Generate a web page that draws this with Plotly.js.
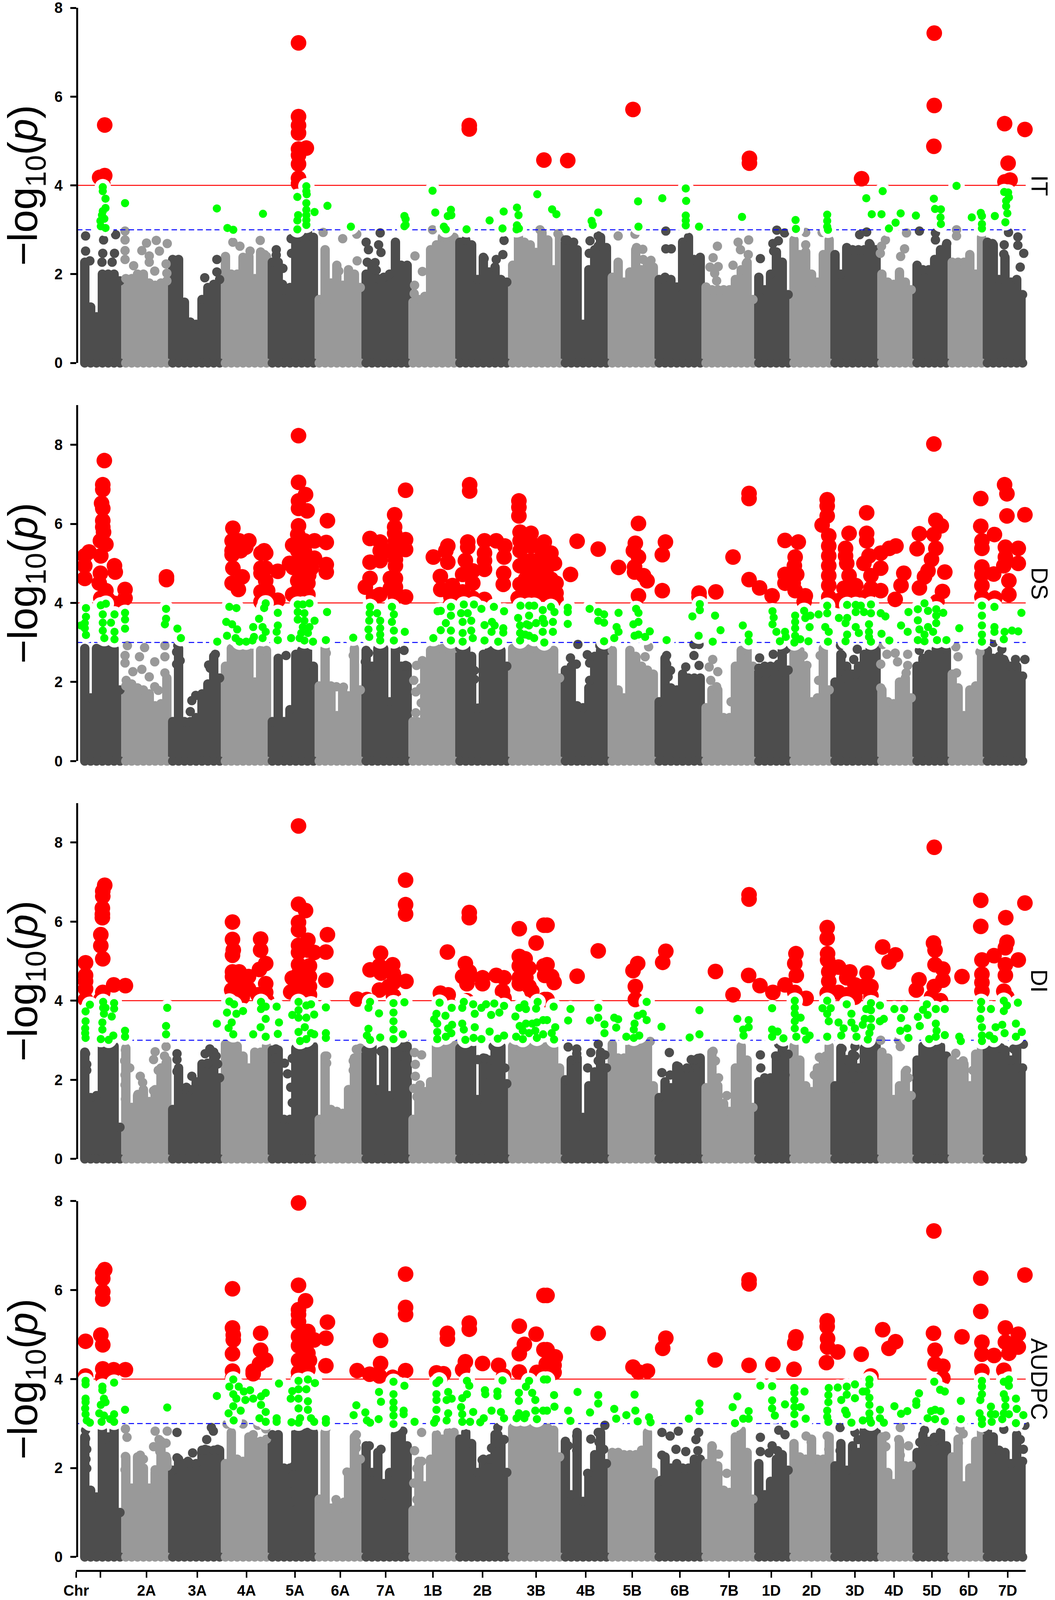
<!DOCTYPE html>
<html>
<head>
<meta charset="utf-8">
<script src="https://cdn.plot.ly/plotly-3.0.1.min.js"></script>
<style>body{margin:0;background:#fff}</style>
</head>
<body>
<div id="chart"></div>
<script>
// Cumulative genome position axis, chromosome ticks and ends
const tickPos = [195,257,375,505,631,755,871,987,1108,1235,1372,1499,1618,1740,1866,1974,2077,2188,2288,2385,2479,2579];
const tickText = ['Chr','','2A','3A','4A','5A','6A','7A','1B','2B','3B','4B','5B','6B','7B','1D','2D','3D','4D','5D','6D','7D'];
const chrEnds = [308,440,568,695,816,925,1050,1168,1303,1440,1557,1680,1802,1928,2020,2134,2243,2335,2436,2523,2700];

// Windows along the genome used for the dense lower part of each panel
const massX = [
 217,232,247,262,277,292,307,322,337,352,
 367,382,397,412,427,442,457,472,487,502,
 517,532,547,562,577,592,607,622,637,652,
 667,682,697,712,727,742,757,772,787,802,
 817,832,847,862,877,892,907,922,937,952,
 967,982,997,1012,1027,1042,1057,1072,1087,1102,
 1117,1132,1147,1162,1177,1192,1207,1222,1237,1252,
 1267,1282,1297,1312,1327,1342,1357,1372,1387,1402,
 1417,1432,1447,1462,1477,1492,1507,1522,1537,1552,
 1567,1582,1597,1612,1627,1642,1657,1672,1687,1702,
 1717,1732,1747,1762,1777,1792,1807,1822,1837,1852,
 1867,1882,1897,1912,1927,1942,1957,1972,1987,2002,
 2017,2032,2047,2062,2077,2092,2107,2122,2137,2152,
 2167,2182,2197,2212,2227,2242,2257,2272,2287,2302,
 2317,2332,2347,2362,2377,2392,2407,2422,2437,2452,
 2467,2482,2497,2512,2527,2542,2557,2572,2587,2602,
 2617];

const itTop = [
 2.27,1.26,1.04,2.0,2.0,2.0,1.85,1.9,1.9,2.0,
 2.0,1.8,1.75,1.8,1.85,2.33,2.33,1.37,.92,.87,
 1.43,1.7,1.77,1.88,2.4,2.0,2.0,2.38,2.4,1.9,
 2.5,2.4,2.27,2.27,1.65,1.7,2.77,2.83,2.95,2.83,
 1.43,2.55,1.8,2.2,1.75,2.1,2.0,1.7,2.0,2.2,
 1.9,1.93,2.0,2.72,2.2,2.2,1.37,1.43,1.5,2.55,
 2.66,2.83,2.83,2.83,2.72,2.77,2.66,1.88,2.38,2.05,
 2.16,1.88,1.82,2.2,2.83,2.72,2.66,2.49,2.94,2.77,
 2.1,2.83,2.77,2.55,2.55,.87,2.1,2.55,2.83,2.6,
 1.93,2.27,1.82,2.05,2.55,2.1,2.27,2.16,1.88,1.93,
 1.88,1.71,2.72,2.83,2.33,2.38,1.71,1.65,1.65,1.65,
 1.65,1.88,2.1,2.27,1.43,1.93,1.65,2.0,2.5,2.27,
 1.54,2.77,2.44,2.5,2.0,1.82,2.44,2.77,2.44,2.0,
 2.6,2.55,2.55,2.55,2.66,2.55,2.0,1.82,1.77,2.05,
 1.82,1.65,2.2,2.1,2.1,2.33,2.55,2.66,2.27,2.27,
 2.27,2.44,2.0,2.83,2.72,2.66,1.88,2.38,1.82,1.88,
 1.54];
const dsTop = [
 2.85,1.6,2.85,2.85,2.85,2.85,1.8,1.9,1.95,1.85,
 1.8,1.7,1.4,1.45,2.1,1.0,2.85,1.0,1.0,1.1,
 1.7,1.95,2.65,2.1,2.4,2.85,2.85,2.85,2.85,2.0,
 2.8,2.8,1.0,2.6,1.0,1.3,2.7,2.8,2.8,2.4,
 1.9,2.85,1.9,1.15,1.85,1.65,2.85,1.8,2.8,2.4,
 2.85,2.85,1.5,2.85,2.4,2.4,1.0,.9,2.4,2.8,
 2.85,2.85,2.85,2.85,2.85,2.85,2.65,1.15,2.7,2.8,
 2.8,2.8,2.4,2.85,2.85,2.85,2.85,2.85,2.85,2.85,
 2.8,2.1,2.3,2.4,1.4,1.35,1.85,2.65,2.8,2.8,
 2.8,1.8,1.6,2.8,2.65,2.4,2.3,2.2,1.5,2.6,
 1.85,1.8,2.2,2.1,2.1,2.1,1.35,1.8,1.8,1.1,
 1.1,2.4,2.8,2.8,2.4,2.35,2.4,2.4,2.4,2.8,
 2.3,2.85,2.8,2.4,1.5,1.6,2.85,1.8,2.0,2.7,
 2.4,2.2,2.4,2.7,2.85,2.85,1.8,1.5,1.45,2.0,
 2.1,1.6,2.4,2.6,2.7,2.7,2.8,2.8,2.2,1.85,
 1.15,1.8,1.9,2.8,2.8,2.6,2.65,2.5,2.4,2.4,
 2.15];
const diTop = [
 2.7,1.55,1.6,2.85,2.85,2.85,.8,2.8,1.3,1.6,
 1.75,1.45,1.75,2.3,2.5,1.25,2.3,1.75,1.75,1.95,
 2.4,2.4,2.7,2.05,2.9,2.9,2.85,2.6,2.3,2.7,
 2.7,2.85,2.75,2.75,1.0,1.0,2.8,2.85,2.85,2.85,
 1.0,2.6,1.25,1.2,1.15,1.75,2.55,2.8,2.75,2.85,
 1.75,2.75,1.6,2.85,2.85,2.85,1.0,1.8,1.7,1.95,
 2.85,2.85,2.9,2.95,2.8,2.85,2.85,1.5,2.55,2.5,
 2.85,2.85,1.9,2.85,2.85,2.85,2.85,2.85,2.85,2.85,
 2.8,2.3,2.0,2.5,2.55,1.05,1.85,2.2,2.7,2.3,
 2.9,2.55,2.55,2.85,2.85,2.85,2.9,1.85,1.55,1.95,
 1.8,2.35,2.25,2.25,2.5,2.55,1.8,2.7,1.85,1.4,
 1.2,2.3,2.85,2.5,1.3,1.95,2.05,2.05,2.6,2.8,
 2.65,2.85,2.5,1.85,1.7,2.3,2.55,2.85,1.85,2.8,
 2.3,2.65,2.3,2.8,2.9,2.9,2.7,2.55,1.5,1.85,
 2.2,1.6,2.5,2.85,2.8,2.85,2.85,2.6,2.5,2.4,
 2.4,1.85,2.65,2.85,2.75,2.85,2.8,2.75,2.5,2.8,
 2.3];
const audpcTop = [
 2.7,1.5,1.35,2.85,2.7,2.85,1.0,2.25,1.55,2.25,
 2.0,1.55,1.9,2.6,2.2,1.95,2.2,2.1,2.1,2.1,
 2.4,2.4,2.4,2.4,2.1,2.8,2.2,2.15,2.7,2.6,
 2.6,2.65,2.75,2.75,2.0,2.0,2.8,2.8,2.8,2.8,
 1.3,2.8,1.1,1.25,1.1,1.9,2.7,2.2,2.5,1.9,
 2.35,1.65,1.9,2.75,2.75,2.5,1.05,2.15,1.6,2.2,
 2.75,2.65,2.8,2.8,2.65,2.8,2.55,1.9,2.2,2.2,
 2.75,2.65,1.9,2.9,2.9,2.9,2.9,2.9,2.9,2.9,
 2.85,2.25,2.6,1.4,2.8,1.25,1.85,2.3,2.8,2.1,
 2.35,2.35,2.3,2.3,2.3,2.4,2.8,1.9,1.7,2.25,
 2.0,2.1,2.0,2.0,2.2,2.2,2.1,2.5,2.05,1.5,
 1.45,2.7,2.85,2.35,1.3,2.1,1.4,1.7,2.2,2.3,
 1.95,2.55,2.25,2.2,2.65,2.2,2.2,2.7,2.05,2.55,
 1.95,2.5,2.35,2.85,2.85,2.85,2.7,1.9,1.65,2.6,
 2.05,2.05,2.35,2.75,2.6,2.6,2.8,2.5,2.25,2.65,
 1.6,2.0,2.6,2.85,2.85,2.7,2.4,2.35,2.1,2.75,
 2.15];

// Scattered SNPs standing above the dense part, [position, -log10(p)]
const itDots = [[219,2.86],[219,2.52],[230,2.3],[265,2.77],[263,2.47],[261,2.27],[293,2.47],[296,2.89],[287,2.27],[320,2.97],[320,2.77],[320,2.53],[320,2.33],[342,2.19],[363,2.53],[375,2.7],[382,2.41],[382,2.27],[400,2.76],[396,2.07],[428,2.69],[408,2.52],[425,2.23],[427,2.02],[524,1.92],[555,2.33],[555,2.05],[596,2.72],[614,2.63],[640,2.52],[666,2.76],[677,2.44],[707,2.55],[707,2.43],[724,2.13],[723,1.77],[746,2.47],[745,2.8],[827,2.94],[832,2.52],[877,2.8],[867,2.07],
 [913,2.9],[973,2.93],[937,2.72],[943,2.55],[969,2.66],[975,2.49],[914,2.3],[940,2.27],[960,2.26],[963,2.09],[972,1.88],[1062,2.41],[1081,2.06],[1061,1.75],[1060,1.56],[1107,3.0],[1141,2.94],[1625,2.9],[1582,2.86],[1629,2.6],[1645,2.56],[1646,2.33],[1666,2.31],[1704,2.97],[1704,2.57],[1718,2.57],[1290,2.76],[1239,2.35],[1270,2.33],[1287,2.44],[1382,3.0],[1428,2.91],[1451,2.77],[1468,2.72],[1531,2.86],[1510,2.75],[1531,2.63],[1508,2.47],
 [1836,2.63],[1825,2.37],[1817,2.16],[1838,2.17],[1829,2.02],[1834,1.85],[1876,2.2],[1889,2.72],[1895,2.55],[1916,2.77],[1915,2.44],[1910,2.24],[1946,2.35],[1988,2.99],[2008,2.93],[1992,2.75],[1978,2.69],[1980,2.52],[2062,2.94],[2062,2.66],[2104,2.94],[2200,2.89],[2218,2.95],[2225,2.69],[2320,2.93],[2266,2.77],[2256,2.63],[2253,2.47],[2315,2.57],[2305,2.4],[2353,2.97],[2394,2.93],[2394,2.77],[2423,2.69],[2448,3.0],[2448,2.86],[2469,2.26],[2540,2.69],[2570,2.66],[2569,2.45],[2581,2.94],[2605,2.84],[2605,2.65],[2620,2.47],[2611,2.16]];
const dsDots = [[326,2.92],[320,2.67],[320,2.48],[370,2.87],[357,2.64],[340,2.26],[363,2.32],[382,2.13],[323,2.04],[396,2.51],[422,2.92],[422,2.64],[422,2.23],[396,1.88],[405,1.79],[455,2.92],[452,2.76],[461,2.54],[452,2.45],[491,1.53],[501,1.66],[534,2.43],[551,2.7],[538,2.35],[487,1.25],[732,2.67],[741,1.03],[861,1.88],[879,1.87],[835,2.73],[891,1.6],[904,2.67],[1034,2.8],[943,2.73],[935,2.51],[1038,2.42],[1066,2.42],[1081,2.54],[1059,2.04],[1077,1.85],[1064,1.75],[1078,1.47],[1064,1.22],[1068,1.0],[1214,2.29],[1214,2.07],[1223,1.34],
 [1479,2.95],[1535,2.92],[1503,2.69],[1460,2.61],[1475,2.45],[1509,2.48],[1509,2.04],[1660,2.89],[1651,2.64],[1776,2.95],[1789,2.95],[1776,2.67],[1789,2.42],[1706,2.67],[1706,2.45],[1716,2.29],[1710,2.13],[1755,2.38],[1824,2.57],[1815,2.38],[1837,2.26],[1819,2.04],[1834,1.88],[1871,1.5],[1944,2.61],[1979,2.7],[2011,2.83],[1992,2.45],[1944,2.23],[1944,1.85],[2009,2.23],[1962,2.23],[2095,2.04],[2065,2.42],[2056,2.67],[2108,1.85],[2099,2.67],[2151,2.92],[2155,2.67],[2194,2.83],[2185,2.57],[2155,2.42],[2190,2.2],[2151,2.04],[2259,2.95],[2270,2.7],[2291,2.73],[2254,2.45],[2323,2.7],[2297,2.51],[2323,2.42],[2319,2.23],[2254,1.85],[2353,2.8],[2396,2.83],[2418,2.83],[2446,2.89],[2452,2.64],[2448,2.23],[2508,2.76],[2543,3.0],[2564,2.83],[2623,2.57],[2599,2.57],[2569,2.57]];
const diDots = [[219,2.66],[222,2.39],[222,2.24],[321,2.75],[319,2.48],[332,2.3],[320,2.12],[320,1.87],[321,1.51],[359,2.09],[365,1.93],[353,1.63],[393,1.72],[397,2.71],[393,2.51],[425,2.84],[421,2.6],[425,2.42],[405,2.24],[453,2.66],[453,2.51],[453,2.21],[457,2.05],[491,2.09],[477,1.81],[537,2.78],[525,2.66],[553,2.6],[557,2.4],[531,2.42],[706,2.78],[706,2.54],[728,2.42],[736,2.15],[744,1.81],[748,2.54],[748,1.42],[836,2.6],[836,2.42],[912,2.77],[904,2.48],[904,2.24],[872,1.08],[892,1.75],[975,2.72],[1035,2.84],[1031,2.6],[1061,2.69],[1079,2.63],[1063,2.39],[1063,2.09],[1075,1.87],[1059,1.78],[1067,1.57],[1075,1.08],[1071,.84],[1079,.6],[1223,2.51],[1242,2.54],[1262,2.84],[1292,2.3],[1239,1.93],
 [1454,2.83],[1476,2.78],[1476,2.66],[1504,2.3],[1512,2.69],[1531,2.9],[1531,2.48],[1548,2.63],[1664,2.97],[1713,2.69],[1694,2.18],[1715,2.12],[1736,2.33],[1758,2.3],[1786,2.54],[1769,2.51],[1786,2.21],[1825,2.72],[1831,2.48],[1839,2.05],[1860,1.6],[1946,2.63],[1947,2.3],[1985,2.6],[2005,2.84],[1993,2.9],[2009,2.12],[2097,2.57],[2084,2.12],[2072,1.57],[2113,2.6],[2155,2.78],[2188,2.84],[2167,2.51],[2188,2.6],[2200,2.3],[2159,2.2],[2184,2.05],[2254,3.0],[2304,2.84],[2300,3.0],[2267,2.54],[2271,2.3],[2325,2.05],[2320,2.24],[2446,2.67],[2465,2.48],[2490,2.24],[2561,2.81],[2594,2.78],[2619,2.9],[2602,2.3]];
const audpcDots = [[219,2.85],[219,2.66],[222,2.42],[220,2.2],[222,1.99],[262,2.8],[266,2.45],[321,2.88],[325,2.69],[321,2.26],[320,1.96],[359,2.29],[367,2.2],[361,1.94],[397,2.83],[428,2.83],[407,2.64],[425,2.56],[393,2.48],[409,2.37],[425,2.26],[428,2.04],[397,1.96],[407,1.88],[397,1.75],[453,2.8],[453,2.23],[481,2.15],[493,2.34],[541,2.91],[546,2.83],[529,2.64],[525,2.42],[557,2.42],[581,2.99],[622,2.99],[648,2.75],[680,2.88],[660,2.96],[744,1.99],[732,1.96],[752,1.48],[744,1.23],[752,2.04],[834,2.88],[912,2.75],[912,2.58],[912,2.45],[888,1.91],[860,1.29],[880,1.23],[945,2.5],[975,2.42],[1031,2.83],[1035,2.45],[990,1.39],[1079,2.8],[1061,2.39],[1079,2.15],[1067,1.99],[1059,1.66],[1067,1.29],[1079,1.12],[1079,.58],[1075,.01],[1073,.77],[1290,2.64],[1274,2.75],[1274,2.91],[1258,2.45],[1234,2.18],[1254,2.21],[1274,2.37],
 [1454,2.5],[1476,2.72],[1476,2.39],[1512,2.65],[1531,2.8],[1533,2.58],[1548,2.96],[1545,2.42],[1504,1.88],[1694,2.8],[1715,2.72],[1736,2.83],[1788,2.8],[1781,2.64],[1730,2.42],[1755,2.37],[1786,2.39],[1694,2.29],[1690,1.72],[1823,2.48],[1839,2.31],[1860,1.88],[1946,2.69],[1946,2.37],[1968,2.34],[1976,2.5],[1993,2.85],[2009,2.75],[1990,2.39],[2063,2.72],[2076,2.58],[2117,2.72],[2121,2.42],[2150,2.91],[2188,2.8],[2196,2.64],[2150,2.39],[2267,2.72],[2304,2.91],[2300,2.64],[2325,2.5],[2304,2.29],[2267,2.48],[2366,2.85],[2354,2.58],[2391,2.69],[2465,2.77],[2457,2.88],[2453,2.56],[2569,2.87],[2623,2.96],[2611,2.64],[2619,2.42]];

// Suggestive SNPs, between 3 and 4
const itGreen = [[263,3.96],[263,3.87],[270,3.7],[270,3.49],[263,3.42],[261,3.33],[267,3.25],[257,3.2],[258,3.08],[270,3.04],[320,3.6],[555,3.48],[582,3.04],[597,3.0],[673,3.36],[784,3.98],[784,3.87],[785,3.8],[761,3.74],[784,3.6],[784,3.45],[805,3.4],[763,3.33],[784,3.33],[761,3.21],[784,3.22],[784,3.11],[761,3.01],[838,3.54],[898,3.07],
 [1035,3.31],[1038,3.24],[1035,3.08],[1038,3.11],[1107,3.88],[1114,3.39],[1154,3.45],[1155,3.33],[1146,3.31],[1136,3.07],[1141,3.01],[1194,3.01],[1253,3.21],[1289,3.41],[1286,3.03],[1323,3.5],[1327,3.33],[1323,3.1],[1328,3.03],[1322,3.01],[1375,3.8],[1413,3.46],[1424,3.35],[1531,3.39],[1514,3.2],[1517,3.11],[1633,3.64],[1634,3.07],[1695,3.71],[1755,3.93],[1756,3.65],[1755,3.32],[1755,3.21],[1755,3.1],[1789,3.07],
 [1899,3.29],[2036,3.22],[2037,3.02],[2117,3.34],[2117,3.2],[2117,3.07],[2119,3.0],[2217,3.71],[2231,3.35],[2256,3.35],[2259,3.87],[2292,3.16],[2275,3.03],[2305,3.37],[2344,3.32],[2390,3.7],[2393,3.47],[2408,3.46],[2407,3.28],[2408,3.13],[2448,3.99],[2487,3.28],[2510,3.38],[2513,3.31],[2513,3.13],[2513,3.03],[2546,3.31],[2570,3.85],[2580,3.84],[2582,3.73],[2575,3.65],[2575,3.53],[2578,3.37],[2573,3.17]];
const dsGreen = [[220,3.87],[220,3.65],[217,3.49],[217,3.36],[207,3.43],[220,3.19],[258,3.94],[271,3.98],[263,3.71],[263,3.5],[263,3.3],[267,3.11],[293,3.71],[284,3.5],[293,3.27],[293,3.08],[320,3.75],[320,3.58],[320,3.35],[425,3.85],[425,3.6],[422,3.46],[454,3.35],[463,3.11],[556,3.02],[587,3.9],[605,3.87],[579,3.52],[594,3.46],[607,3.33],[581,3.17],[603,3.11],[613,3.02],[630,3.02],[646,3.05],[648,3.39],[676,3.87],[680,3.99],[663,3.6],[672,3.39],[680,3.27],[650,3.14],[672,3.11],[711,3.75],[711,3.43],[708,3.27],[711,3.06],
 [762,3.96],[792,3.99],[775,3.96],[762,3.77],[779,3.74],[762,3.58],[779,3.55],[805,3.55],[775,3.39],[792,3.39],[771,3.24],[788,3.24],[745,3.11],[767,3.11],[779,3.05],[801,3.02],[837,3.77],[834,3.06],[904,3.12],[947,3.9],[946,3.74],[965,3.74],[945,3.55],[943,3.33],[973,3.55],[973,3.36],[973,3.2],[973,3.05],[945,3.14],[1003,3.9],[1008,3.71],[1003,3.52],[1008,3.3],[1008,3.05],[1036,3.27],[1109,3.11],[1120,3.79],[1128,3.8],[1154,3.9],[1141,3.49],[1128,3.31],[1154,3.68],[1154,3.3],[1154,3.05],[1187,3.96],[1180,3.74],[1197,3.74],[1184,3.52],[1206,3.55],[1184,3.24],[1206,3.3],[1184,3.02],[1210,3.11],[1213,3.96],[1232,3.85],[1264,3.9],[1290,3.79],[1240,3.44],[1259,3.52],[1266,3.43],[1258,3.27],[1288,3.36],[1288,3.25],[1240,3.05],[1275,3.02],[1332,3.93],[1326,3.62],[1331,3.43],[1331,3.24],[1331,3.05],[1348,3.46],[1344,3.2],
 [1354,3.93],[1367,3.93],[1354,3.68],[1389,3.82],[1389,3.6],[1354,3.43],[1372,3.49],[1393,3.49],[1354,3.17],[1367,3.11],[1389,3.27],[1393,3.0],[1410,3.9],[1419,3.77],[1415,3.52],[1415,3.27],[1453,3.88],[1453,3.77],[1453,3.47],[1509,3.85],[1531,3.77],[1546,3.71],[1531,3.55],[1546,3.5],[1583,3.75],[1578,3.39],[1583,3.27],[1572,3.11],[1546,3.03],[1628,3.85],[1634,3.75],[1634,3.52],[1621,3.46],[1634,3.2],[1624,3.17],[1663,3.28],[1651,3.14],[1706,3.06],[1791,3.97],[1791,3.82],[1772,3.66],[1830,3.68],[1844,3.31],[1788,3.17],[1824,3.02],[1901,3.43],[1916,3.2],[1916,3.03],[1977,3.79],[1980,3.63],[1977,3.46],[1987,3.27],[2009,3.27],[2011,3.14],[1996,3.03],
 [2035,3.68],[2035,3.52],[2035,3.36],[2058,3.8],[2061,3.62],[2074,3.68],[2072,3.39],[2035,3.17],[2033,3.0],[2048,3.08],[2069,3.03],[2095,3.71],[2117,3.93],[2117,3.74],[2112,3.39],[2121,3.27],[2119,3.02],[2147,3.62],[2168,3.62],[2164,3.49],[2164,3.03],[2168,3.2],[2168,3.95],[2190,3.95],[2203,3.93],[2190,3.77],[2211,3.77],[2229,3.96],[2229,3.74],[2224,3.46],[2224,3.27],[2190,3.39],[2198,3.24],[2224,3.14],[2229,3.02],[2254,3.74],[2266,3.66],[2256,3.22],[2276,3.05],[2325,3.77],[2306,3.43],[2323,3.27],[2349,3.84],[2366,3.99],[2375,3.8],[2349,3.56],[2396,3.84],[2414,3.75],[2396,3.68],[2396,3.49],[2375,3.39],[2353,3.33],[2388,3.27],[2366,3.2],[2349,3.06],[2366,3.03],[2398,3.06],[2422,3.06],[2455,3.36],[2513,3.93],[2513,3.68],[2513,3.43],[2513,3.2],[2513,3.02],[2545,3.9],[2545,3.39],[2545,3.27],[2571,3.27],[2590,3.3],[2606,3.28],[2614,3.75],[2569,3.08]];
const diGreen = [[219,3.73],[230,3.9],[219,3.48],[218,3.3],[218,3.18],[219,3.06],[264,3.97],[264,3.82],[270,3.82],[266,3.67],[292,3.94],[292,3.8],[286,3.6],[262,3.45],[262,3.27],[258,3.03],[290,3.12],[278,3.01],[320,3.24],[320,3.09],[428,3.82],[425,3.36],[425,3.15],[555,3.42],[581,3.7],[587,3.98],[599,3.91],[605,3.67],[622,3.74],[593,3.45],[585,3.31],[597,3.15],[648,3.15],[668,3.97],[668,3.79],[680,3.85],[680,3.54],[667,3.33],[680,3.09],[708,3.85],[714,3.45],[711,3.16],[764,3.97],[764,3.76],[784,3.88],[796,3.91],[748,3.64],[764,3.57],[784,3.57],[804,3.65],[780,3.33],[764,3.21],[796,3.18],[804,3.15],[768,2.98],[784,3.03],[834,3.83],[834,3.18],[834,3.06],[943,3.82],[947,3.97],[970,3.68],[943,3.29],[939,3.12],[947,3.01],[973,3.07],[1007,3.94],[1007,3.7],[1007,3.48],[1007,3.27],[1007,3.03],[1035,3.96],[1031,3.15],
 [1111,3.53],[1117,3.67],[1119,3.42],[1119,3.21],[1119,3.03],[1125,3.95],[1140,3.62],[1156,3.82],[1157,3.39],[1147,3.3],[1155,3.18],[1141,3.09],[1187,3.97],[1183,3.82],[1183,3.42],[1187,3.27],[1191,3.01],[1211,3.91],[1215,3.67],[1215,3.33],[1212,3.06],[1232,3.82],[1244,3.91],[1265,3.93],[1257,3.64],[1253,3.22],[1232,3.03],[1290,3.87],[1278,3.7],[1290,3.12],[1274,3.04],[1319,3.6],[1329,3.82],[1342,3.91],[1346,3.79],[1372,3.8],[1376,3.97],[1330,3.36],[1346,3.42],[1362,3.42],[1374,3.45],[1390,3.51],[1321,3.09],[1338,3.03],[1354,3.18],[1374,3.06],[1390,3.15],[1338,3.24],[1370,3.24],
 [1417,3.85],[1400,3.51],[1421,3.33],[1412,3.18],[1418,3.02],[1460,3.79],[1454,3.5],[1510,3.5],[1531,3.82],[1531,3.57],[1547,3.4],[1547,3.18],[1572,3.57],[1582,3.53],[1577,3.32],[1603,3.09],[1655,3.97],[1645,3.67],[1632,3.62],[1655,3.51],[1624,3.42],[1622,3.27],[1636,3.12],[1622,3.06],[1693,3.34],[1765,3.07],[1790,3.76],[1790,3.15],[1887,3.54],[1916,3.51],[1902,3.27],[1916,3.33],[1903,3.12],[1976,3.81],[1976,3.27],[1990,3.22],[1976,3.09],[2005,3.05],
 [2034,4.0],[2034,3.82],[2034,3.67],[2049,3.57],[2034,3.48],[2034,3.3],[2038,3.09],[2059,3.24],[2072,3.12],[2063,3.02],[2117,4.0],[2105,3.81],[2126,3.81],[2117,3.67],[2121,3.48],[2117,3.09],[2146,3.45],[2167,3.91],[2179,3.67],[2179,3.45],[2159,3.3],[2188,3.3],[2153,3.12],[2192,3.09],[2217,3.79],[2229,3.94],[2229,3.76],[2229,3.54],[2213,3.54],[2208,3.39],[2229,3.33],[2225,3.18],[2221,3.02],[2252,3.88],[2252,3.48],[2262,3.54],[2289,3.79],[2314,3.79],[2306,3.56],[2322,3.3],[2304,3.24],[2325,3.06],[2372,3.91],[2362,3.77],[2349,3.59],[2374,3.64],[2354,3.36],[2395,3.79],[2418,3.79],[2395,3.42],[2397,3.24],[2395,3.09],[2418,3.13],[2378,3.03],[2455,3.09],[2459,2.98],[2511,3.97],[2511,3.79],[2509,3.54],[2513,3.33],[2513,3.12],[2513,2.98],[2536,3.79],[2532,3.12],[2544,3.03],[2548,3.33],[2569,4.0],[2577,3.88],[2569,3.74],[2565,3.39],[2571,3.18],[2605,3.95],[2600,3.42],[2615,3.21],[2600,3.09]];
const audpcGreen = [[219,3.96],[219,3.88],[219,3.56],[219,3.48],[218,3.34],[219,3.21],[222,3.07],[230,3.02],[262,3.83],[262,3.75],[266,3.56],[270,3.48],[258,3.42],[254,3.23],[266,3.18],[260,3.04],[292,3.92],[292,3.21],[282,3.1],[292,3.04],[320,3.31],[428,3.36],[555,3.62],[597,3.99],[587,3.83],[611,3.83],[597,3.66],[624,3.72],[640,3.75],[605,3.56],[628,3.53],[648,3.56],[597,3.39],[616,3.29],[585,3.23],[598,3.07],[668,3.61],[680,3.69],[668,3.42],[680,3.26],[664,3.12],[680,3.04],[708,3.12],[708,3.04],[714,3.9],[748,3.73],[744,3.56],[746,3.03],[764,3.96],[788,3.99],[806,3.91],[764,3.77],[784,3.77],[764,3.56],[788,3.5],[764,3.34],[788,3.31],[768,3.12],[796,3.12],[764,3.02],[804,3.04],[834,3.1],[834,3.02],[912,3.41],[905,3.19],[935,3.25],[939,3.07],[947,3.02],[970,3.71],[975,3.49],[969,3.1],[1007,3.94],[1007,3.66],[1007,3.48],[1007,3.34],[1007,3.18],[1007,2.99],[1035,3.85],[1033,3.29],[1033,3.21],[1061,3.04],
 [1124,3.97],[1117,3.91],[1117,3.66],[1117,3.53],[1117,3.31],[1116,3.1],[1111,3.02],[1147,3.71],[1143,3.53],[1156,3.56],[1147,3.23],[1143,3.07],[1195,3.96],[1201,3.85],[1195,3.66],[1183,3.57],[1180,3.37],[1183,3.21],[1211,3.26],[1203,3.04],[1183,3.04],[1229,3.03],[1241,3.75],[1242,3.66],[1238,3.12],[1258,3.29],[1273,3.72],[1273,3.62],[1282,3.26],[1290,3.12],[1286,3.97],[1328,3.69],[1328,3.51],[1322,3.12],[1328,3.23],[1346,3.21],[1342,3.12],[1354,3.96],[1346,3.83],[1362,3.69],[1370,3.53],[1370,3.29],[1374,3.1],[1390,3.29],[1392,3.99],
 [1400,3.29],[1400,3.99],[1418,3.64],[1419,3.38],[1454,3.29],[1460,3.06],[1478,3.71],[1510,3.25],[1531,3.64],[1531,3.45],[1572,3.33],[1577,3.11],[1603,3.19],[1624,3.65],[1626,3.29],[1632,3.05],[1661,3.14],[1665,3.03],[1763,3.11],[1790,3.45],[1790,3.28],[1887,3.61],[1875,3.37],[1916,3.28],[1916,3.11],[1902,3.11],[1881,3.01],[1946,3.85],[1976,3.84],[1976,3.52],[1976,3.34],[1983,3.18],[2009,3.43],
 [2033,3.8],[2033,3.69],[2059,3.72],[2033,3.53],[2033,3.37],[2049,3.37],[2033,3.21],[2062,3.11],[2033,2.99],[2121,3.8],[2120,3.64],[2120,3.48],[2117,3.29],[2117,3.15],[2120,3.04],[2144,3.81],[2167,3.83],[2188,3.88],[2167,3.65],[2188,3.57],[2153,3.53],[2163,3.29],[2167,3.21],[2179,3.02],[2225,3.99],[2225,3.88],[2217,3.72],[2225,3.58],[2225,3.42],[2225,3.23],[2225,3.1],[2208,3.72],[2208,3.07],[2229,3.02],[2252,3.31],[2252,3.12],[2262,3.02],[2289,3.39],[2306,3.22],[2322,3.28],[2345,3.5],[2345,3.42],[2352,3.68],[2374,3.12],[2383,3.28],[2393,3.31],[2407,3.28],[2393,3.1],[2418,3.05],[2391,3.94],[2406,3.76],[2418,3.72],[2459,3.51],[2459,3.1],[2513,3.96],[2513,3.83],[2513,3.66],[2509,3.53],[2507,3.23],[2513,3.1],[2513,2.99],[2536,3.38],[2536,3.21],[2538,3.04],[2547,3.21],[2569,3.94],[2582,3.99],[2582,3.85],[2569,3.66],[2573,3.56],[2573,3.39],[2569,3.23],[2582,3.21],[2565,3.1],[2600,3.56],[2602,3.33],[2619,3.19],[2600,3.01]];

// Significant SNPs, above 4
const itRed = [[268,5.36],[255,4.18],[268,4.22],[263,4.04],[764,7.21],[764,5.55],[764,5.35],[764,5.18],[764,4.82],[784,4.84],[764,4.68],[764,4.48],[764,4.16],[764,4.04],[1201,5.35],[1201,5.27],[1392,4.57],[1453,4.56],[1620,5.71],[1918,4.61],[1918,4.5],[2205,4.15],[2391,7.43],[2391,5.8],[2390,4.88],[2571,5.39],[2623,5.26],[2580,4.5],[2585,4.12],[2572,4.08]];
const dsRed = [[217,5.19],[217,4.94],[217,4.62],[228,5.29],[267,7.6],[263,6.99],[263,6.87],[260,6.52],[263,6.39],[263,6.08],[263,5.92],[265,5.79],[257,5.57],[271,5.48],[258,5.19],[257,4.75],[254,4.5],[271,4.31],[258,4.12],[276,4.09],[293,4.94],[295,4.78],[293,3.99],[320,4.34],[320,4.12],[426,4.59],[426,4.66],
 [596,5.89],[594,5.57],[594,5.32],[594,5.22],[612,5.57],[637,5.57],[616,5.32],[629,5.41],[596,4.88],[594,4.5],[620,4.66],[610,4.34],[676,5.32],[668,5.26],[680,5.26],[668,4.88],[680,4.88],[668,4.75],[711,4.8],[680,4.56],[668,4.28],[668,4.03],[685,4.31],[711,4.07],
 [764,8.23],[764,7.05],[782,6.74],[764,6.58],[764,6.39],[786,6.33],[764,5.95],[762,5.73],[749,5.46],[779,5.57],[805,5.57],[779,5.32],[762,5.32],[741,5.0],[762,5.0],[788,5.13],[805,5.13],[775,4.81],[797,4.88],[762,4.56],[788,4.5],[749,4.21],[775,4.31],[788,4.21],[775,4.12],[838,6.08],[835,5.53],[835,4.97],[835,4.78],[775,5.1],[775,5.45],[790,4.7],[762,4.3],[775,4.6],[790,5.0],[750,4.9],
 [1038,6.85],[1010,6.23],[1010,5.92],[1010,5.76],[947,5.63],[973,5.54],[1038,5.6],[1038,5.35],[973,5.32],[990,5.32],[1012,5.57],[947,5.03],[973,5.07],[1012,5.32],[1012,4.94],[947,4.62],[999,4.62],[1012,4.62],[935,4.4],[956,4.15],[972,4.21],[999,4.37],[1038,4.15],[1012,4.15],[1012,5.1],[1012,4.4],
 [1109,5.16],[1146,5.44],[1141,5.32],[1146,5.03],[1127,4.67],[1128,4.34],[1158,4.44],[1154,4.15],[1184,4.28],[1154,3.99],[1187,4.09],[1202,6.99],[1202,6.83],[1197,5.54],[1197,5.41],[1191,5.07],[1184,4.72],[1210,4.81],[1240,5.57],[1270,5.57],[1292,5.44],[1240,5.26],[1240,5.07],[1290,5.16],[1240,4.85],[1289,4.75],[1288,4.47],[1210,4.5],[1240,4.09],[1210,4.12],
 [1328,6.58],[1328,6.42],[1328,6.2],[1331,5.79],[1331,5.57],[1331,5.32],[1331,4.94],[1331,4.47],[1326,4.12],[1359,5.76],[1359,5.44],[1359,5.07],[1359,4.75],[1359,4.44],[1359,4.12],[1393,5.54],[1393,5.32],[1397,5.07],[1419,5.0],[1397,4.81],[1376,4.5],[1376,4.31],[1402,4.31],[1423,4.25],[1402,4.12],[1423,4.09],[1376,4.09],[1376,5.44],[1376,5.07],[1376,4.75],[1393,4.88],[1410,5.26],[1393,4.6],[1410,4.6],[1359,4.9],[1345,5.0],[1345,4.6],[1345,5.6],[1345,4.25],[1415,4.35],[1423,4.5],
 [1477,5.56],[1531,5.36],[1460,4.72],[1583,4.9],[1634,6.01],[1626,5.51],[1621,5.32],[1634,5.16],[1624,4.91],[1624,4.78],[1647,4.69],[1656,4.56],[1703,5.54],[1695,5.22],[1695,4.31],[1634,4.18],[1789,4.25],[1789,4.15],[1832,4.28],[1876,5.16],[1917,6.77],[1917,6.64],[1917,4.59],[1944,4.38],[1976,4.18],
 [2009,5.58],[2043,5.54],[2035,5.16],[2033,4.94],[2009,4.72],[2039,4.72],[2009,4.5],[2030,4.5],[2035,4.31],[2061,4.18],[2058,4.03],[2117,6.61],[2117,6.45],[2117,6.2],[2104,5.97],[2121,5.7],[2121,5.44],[2121,5.19],[2121,4.94],[2121,4.69],[2121,4.44],[2121,4.15],[2173,5.76],[2164,5.38],[2164,5.19],[2167,5.0],[2173,4.69],[2160,4.37],[2190,4.44],[2190,4.18],[2147,4.06],[2177,4.03],
 [2218,6.28],[2218,5.76],[2218,5.57],[2224,5.19],[2211,5.0],[2254,5.26],[2276,5.38],[2293,5.44],[2254,4.88],[2229,4.69],[2229,4.37],[2254,4.31],[2220,4.18],[2313,4.75],[2306,4.44],[2291,4.09],[2353,5.75],[2347,5.37],[2390,8.02],[2395,6.09],[2409,5.95],[2390,5.73],[2395,5.38],[2384,5.1],[2375,4.81],[2418,4.78],[2366,4.66],[2353,4.38],[2412,4.29],[2398,4.03],
 [2510,6.64],[2510,5.94],[2513,5.57],[2545,5.73],[2513,5.38],[2513,4.91],[2513,4.72],[2543,4.73],[2513,4.44],[2513,4.15],[2546,4.12],[2571,6.99],[2577,6.76],[2577,6.2],[2623,6.23],[2573,5.41],[2606,5.38],[2573,5.16],[2606,5.0],[2569,4.94],[2582,4.56],[2582,4.21]];
const diRed = [[219,4.96],[219,4.64],[219,4.49],[219,4.3],[219,4.03],[268,6.92],[263,6.77],[263,6.64],[262,6.34],[262,6.19],[262,6.1],[258,5.67],[258,5.39],[263,5.06],[263,4.21],[258,4.03],[291,4.4],[321,4.38],
 [595,5.99],[595,5.55],[597,5.28],[595,5.15],[595,4.73],[595,4.61],[593,4.27],[612,4.73],[616,4.43],[620,4.09],[589,4.0],[636,4.61],[636,4.3],[667,5.56],[667,5.28],[680,4.94],[664,4.79],[680,4.43],[680,4.21],[660,4.15],[683,4.0],
 [764,8.42],[764,6.44],[782,6.28],[764,5.98],[764,5.79],[788,5.53],[764,5.4],[764,5.22],[788,5.28],[804,5.22],[764,4.91],[792,4.88],[764,4.67],[748,4.57],[792,4.61],[764,4.43],[792,4.36],[744,4.22],[764,4.18],[792,4.15],[772,4.0],[838,5.67],[834,5.23],[834,4.52],
 [1038,7.05],[1038,6.43],[1038,6.19],[974,5.2],[947,4.78],[971,4.88],[975,4.7],[1005,4.91],[1007,4.67],[1039,4.49],[1007,4.46],[971,4.27],[995,4.36],[1007,4.12],[914,4.04],[939,4.03],
 [1145,5.23],[1127,4.19],[1147,4.15],[1145,3.97],[1201,6.23],[1201,6.1],[1191,4.94],[1201,4.73],[1184,4.61],[1201,4.61],[1195,4.43],[1235,4.58],[1235,4.43],[1270,4.64],[1290,4.58],[1286,4.24],[1290,4.06],[1195,4.0],
 [1329,5.82],[1329,5.12],[1344,5.06],[1329,4.88],[1354,4.82],[1329,4.58],[1329,4.43],[1346,4.58],[1354,4.36],[1361,4.24],[1372,5.46],[1392,5.91],[1392,4.88],[1394,4.64],[1394,4.03],[1400,5.91],[1400,4.91],[1412,4.61],[1418,4.46],[1400,4.03],[1477,4.62],[1531,5.26],[1632,4.94],[1620,4.76],[1626,4.36],[1626,4.03],[1704,5.25],[1696,4.97],[1831,4.74],[1876,4.15],[1917,6.68],[1917,6.57],[1916,4.64],[1945,4.38],[1978,4.21],[2009,4.4],[2037,5.19],[2034,4.94],[2038,4.64],[2034,4.21],[2063,4.06],
 [2117,5.85],[2117,5.58],[2118,5.19],[2118,5.03],[2121,4.73],[2121,4.49],[2117,4.19],[2146,4.85],[2146,4.21],[2175,4.73],[2167,4.58],[2188,4.4],[2188,4.09],[2219,4.7],[2229,4.36],[2208,4.36],[2229,4.12],[2167,4.15],[2229,4.03],[2259,5.36],[2292,5.16],[2275,4.98],[2352,4.53],[2345,4.27],[2389,5.46],[2393,5.28],[2393,4.91],[2413,4.8],[2413,4.52],[2391,4.36],[2384,4.09],[2407,4.0],[2391,7.88],[2462,4.61],[2510,6.54],[2510,5.88],[2513,5.03],[2513,4.67],[2513,4.46],[2513,4.24],[2544,5.14],[2574,6.1],[2623,6.47],[2577,5.48],[2573,5.34],[2606,5.03],[2573,4.91],[2573,4.64],[2569,4.24],[2577,4.09]];
const audpcRed = [[219,4.85],[219,4.07],[268,6.46],[263,6.39],[263,6.26],[263,5.96],[263,5.8],[258,4.99],[263,4.77],[263,4.23],[263,4.04],[291,4.21],[321,4.21],
 [595,6.03],[595,5.15],[597,4.99],[597,4.88],[595,4.57],[595,4.18],[595,4.02],[648,4.18],[667,5.03],[667,4.65],[680,4.43],[664,4.34],[648,4.12],
 [764,7.96],[764,6.11],[782,5.76],[764,5.56],[764,5.45],[764,5.29],[788,5.07],[764,4.96],[804,4.88],[764,4.75],[784,4.8],[788,4.58],[792,4.42],[764,4.42],[764,4.15],[788,4.21],[764,4.02],[784,4.04],[838,5.28],[834,4.92],[834,4.3],
 [1038,6.36],[1038,5.61],[1038,5.45],[974,4.87],[914,4.19],[946,4.11],[974,4.35],[971,4.07],[1005,4.04],[1038,4.19],[1145,5.03],[1145,4.9],[1117,4.14],[1135,4.12],[1127,4.02],[1201,5.26],[1201,5.12],[1191,4.39],[1184,4.21],[1235,4.35],[1276,4.31],[1289,4.07],
 [1329,5.19],[1329,4.57],[1342,4.78],[1372,5.01],[1329,4.16],[1374,4.15],[1392,5.88],[1392,4.66],[1398,4.34],[1400,5.88],[1400,4.66],[1421,4.5],[1418,4.31],[1418,4.15],[1531,5.03],[1620,4.27],[1634,4.16],[1657,4.18],[1704,4.92],[1696,4.69],[1830,4.43],[1917,4.31],[1917,6.23],[1917,6.14],[1978,4.33],[2032,4.22],[2037,4.95],[2034,4.81],
 [2117,5.31],[2117,5.18],[2118,4.91],[2118,4.72],[2144,4.61],[2115,4.37],[2204,4.56],[2229,4.07],[2259,5.11],[2292,4.84],[2275,4.69],[2390,7.33],[2389,5.03],[2393,4.65],[2393,4.34],[2413,4.29],[2413,4.02],[2462,4.95],[2510,6.27],[2510,5.52],[2513,4.83],[2513,4.56],[2513,4.18],[2544,4.53],[2623,6.34],[2573,5.15],[2606,5.01],[2573,4.83],[2606,4.72],[2582,4.58],[2569,4.2],[2577,4.02],[2586,4.75]];

const panelNames = ['IT','DS','DI','AUDPC'];
const panelTop = [itTop,dsTop,diTop,audpcTop];
const panelDots = [itDots,dsDots,diDots,audpcDots];
const panelGreen = [itGreen,dsGreen,diGreen,audpcGreen];
const panelRed = [itRed,dsRed,diRed,audpcRed];

const DARK = '#4d4d4d', GREY = '#999999';
const W = 2700, REF_H = 4501;
// the window can be shorter than the figure, so fit the height to what is there
const H = Math.min(window.innerHeight || REF_H, REF_H);
const FONT = '"Liberation Sans", Arial, sans-serif';

// rows of each panel in the 4501 tall figure
const panelBox = [
    {bottom: 1021, top: 22, max: 8},
    {bottom: 2141, top: 1140, max: 9},
    {bottom: 3260, top: 2259, max: 9},
    {bottom: 4380, top: 3379, max: 8}
];

function chrColor(x) {
    let i = chrEnds.findIndex(e => x <= e);
    return i % 2 === 0 ? DARK : GREY;
}

function points(list, size, color, xa, ya) {
    return {
        x: list.map(p => p[0]), y: list.map(p => p[1]),
        xaxis: xa, yaxis: ya, type: 'scatter', mode: 'markers', cliponaxis: false,
        marker: {size: size, color: color, line: {width: 0}},
        hoverinfo: 'x+y', showlegend: false
    };
}

let data = [];
let layout = {
    width: W, height: H,
    margin: {l: 0, r: 0, t: 0, b: 0},
    paper_bgcolor: '#fff', plot_bgcolor: 'rgba(0,0,0,0)',
    showlegend: false, barmode: 'overlay',
    annotations: []
};

panelNames.forEach((name, i) => {
    let sfx = i === 0 ? '' : String(i + 1);
    let xa = 'x' + sfx, ya = 'y' + sfx;
    let box = panelBox[i];
    let colors = massX.map(chrColor);

    // dense part: a column under each window top
    data.push({
        x: massX, y: panelTop[i], xaxis: xa, yaxis: ya, type: 'bar', width: 24,
        marker: {color: colors, line: {width: 0}}, hoverinfo: 'skip', showlegend: false
    });
    data.push(points(massX.map((x, k) => [x, panelTop[i][k]]), 24, colors, xa, ya));
    data.push(points(massX.map(x => [x, 0]), 24, colors, xa, ya));
    data.push(points(panelDots[i], 24, panelDots[i].map(p => chrColor(p[0])), xa, ya));

    // threshold lines
    data.push({x: [197, 2625], y: [4, 4], xaxis: xa, yaxis: ya, mode: 'lines', line: {color: '#ff0000', width: 2.5}, hoverinfo: 'skip', showlegend: false});
    data.push({x: [197, 2625], y: [3, 3], xaxis: xa, yaxis: ya, mode: 'lines', line: {color: '#0000ff', width: 2.5, dash: '14px,8px'}, hoverinfo: 'skip', showlegend: false});

    data.push(points(panelRed[i], 40, '#ff0000', xa, ya));
    data.push(points(panelGreen[i], 42, '#ffffff', xa, ya));
    data.push(points(panelGreen[i], 21, '#00ff00', xa, ya));

    let domain = [(REF_H - box.bottom) / REF_H, (REF_H - box.top) / REF_H];
    let isLast = i === 3;
    layout['xaxis' + sfx] = {
        domain: [195 / W, 2625 / W], range: [195, 2625],
        anchor: isLast ? 'free' : ya, position: (REF_H - 4419) / REF_H,
        visible: isLast, showgrid: false, zeroline: false,
        showline: true, linecolor: '#000', linewidth: 5,
        ticks: 'outside', ticklen: 15, tickwidth: 4, tickcolor: '#000',
        tickmode: 'array', tickvals: tickPos, ticktext: tickText,
        ticklabelstandoff: H < REF_H ? 0 : 26, tickangle: 0,
        tickfont: {family: FONT, size: 38, color: '#000', weight: 'bold'},
        fixedrange: true
    };
    layout['yaxis' + sfx] = {
        domain: domain, range: [0, box.max],
        anchor: 'free', position: 197 / W,
        showgrid: false, zeroline: false,
        showline: true, linecolor: '#000', linewidth: 5,
        ticks: 'outside', ticklen: 15, tickwidth: 5, tickcolor: '#000',
        tickmode: 'array', tickvals: [0, 2, 4, 6, 8],
        ticklabelstandoff: 12, ticklabeloverflow: 'allow',
        tickfont: {family: FONT, size: 38, color: '#000', weight: 'bold'},
        title: {text: '\u2212log<sub>10</sub>(<i>p</i>)', standoff: 33, font: {family: FONT, size: 105, color: '#000'}},
        fixedrange: true
    };

    layout.annotations.push({
        text: name, xref: 'paper', yref: 'paper', x: 2660 / W, y: (REF_H - (box.top + box.bottom) / 2) / REF_H,
        xanchor: 'center', yanchor: 'middle', showarrow: false, textangle: 90,
        font: {family: FONT, size: 60, color: '#000'}
    });
});

Plotly.newPlot(document.getElementById('chart'), data, layout, {displayModeBar: false});
</script>
</body>
</html>
